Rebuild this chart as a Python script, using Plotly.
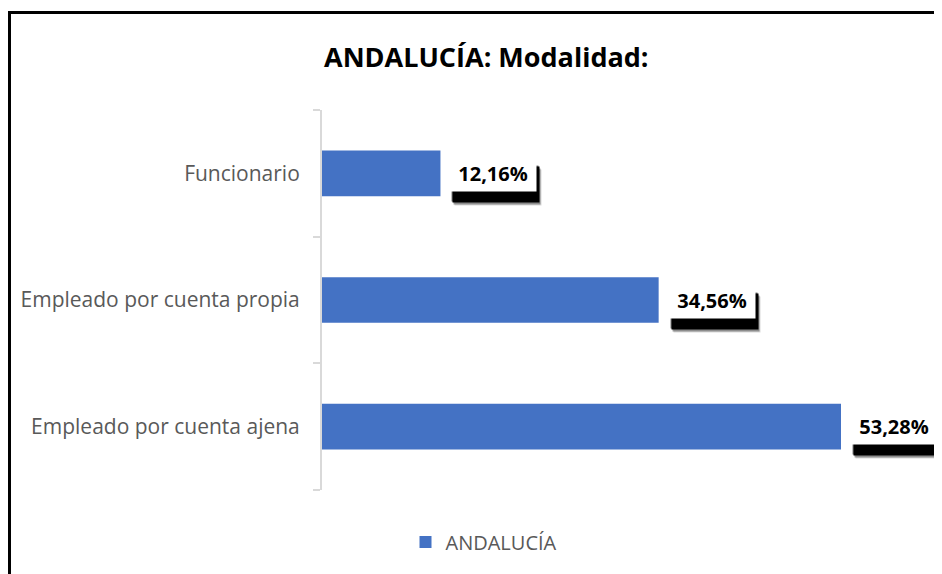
import plotly.graph_objects as go

categories = ["Empleado por cuenta ajena", "Empleado por cuenta propia", "Funcionario"]
values = [53.28, 34.56, 12.16]
series_name = "ANDALUCÍA"
title_text = "ANDALUCÍA: Modalidad:"

OFF = 8  # page body margin
W, H = 942 - OFF, 574 - OFF
L, R, T, B = 322 - OFF, 12, 110 - OFF, 84
pw, ph = W - L - R, H - T - B

def px(x):
    # x in screenshot pixels -> paper coords
    return (x - OFF - L) / pw

def py(y):
    return (H - B - (y - OFF)) / ph

fig = go.Figure()
fig.add_trace(go.Bar(
    y=categories, x=values, orientation="h", name=series_name,
    marker=dict(color="#4472C4", line=dict(width=0)),
    showlegend=True,
))

def fmt(v):
    return f"{v:.2f}".replace(".", ",") + "%"

BW, BH, PAD = 76, 25, 5
lab_font = dict(family="Open Sans", size=20)
for c, v in zip(categories, values):
    # soft drop shadow (empty boxes)
    for dx, dy, col in [(5, -14, "rgba(0,0,0,0.15)"), (4, -13, "rgba(0,0,0,0.35)"),
                        (2, -10, "rgba(0,0,0,0.5)"), (3, -11, "rgba(0,0,0,1)")]:
        fig.add_annotation(x=v, y=c, xref="x", yref="y", text=" ", showarrow=False,
                           xanchor="left", yanchor="middle", xshift=9 + dx, yshift=dy,
                           width=BW, height=BH, bgcolor=col, borderpad=PAD,
                           font=dict(lab_font, color="rgba(0,0,0,0)"))
    fig.add_annotation(x=v, y=c, xref="x", yref="y", text="<b>" + fmt(v) + "</b>", showarrow=False,
                       xanchor="left", yanchor="middle", xshift=9,
                       width=BW, height=BH, bgcolor="white", borderpad=PAD,
                       font=dict(lab_font, color="black"))

fig.add_annotation(x=px(486), y=py(57), xref="paper", yref="paper", text="<b>" + title_text + "</b>",
                   showarrow=False, xanchor="center", yanchor="middle",
                   font=dict(family="Open Sans", size=27, color="black"))

# outer frame (left and top edges visible)
fig.add_shape(type="line", xref="paper", yref="paper", x0=px(9.5), x1=px(9.5), y0=py(11), y1=py(590),
              line=dict(color="black", width=3))
fig.add_shape(type="line", xref="paper", yref="paper", x0=px(8), x1=px(960), y0=py(12.5), y1=py(12.5),
              line=dict(color="black", width=3))

fig.update_layout(
    width=W, height=H,
    margin=dict(l=L, r=R, t=T, b=B, pad=0),
    paper_bgcolor="white", plot_bgcolor="white",
    bargap=0.64,
    xaxis=dict(range=[0, pw / (519 / 53.28)], visible=False, showgrid=False, zeroline=False),
    yaxis=dict(showline=True, linecolor="#d9d9d9", linewidth=2, ticks="outside", tickson="boundaries",
               ticklen=7, tickcolor="#d9d9d9", tickwidth=2, ticklabelstandoff=16,
               tickfont=dict(family="Open Sans", size=21, color="#595959"), showgrid=False),
    legend=dict(orientation="h", x=px(484), y=py(542), xanchor="center", yanchor="middle",
                font=dict(family="Open Sans", size=20, color="#595959"), itemwidth=30,
                bgcolor="rgba(0,0,0,0)"),
    font=dict(family="Open Sans"),
)

fig.write_html("out.html")
